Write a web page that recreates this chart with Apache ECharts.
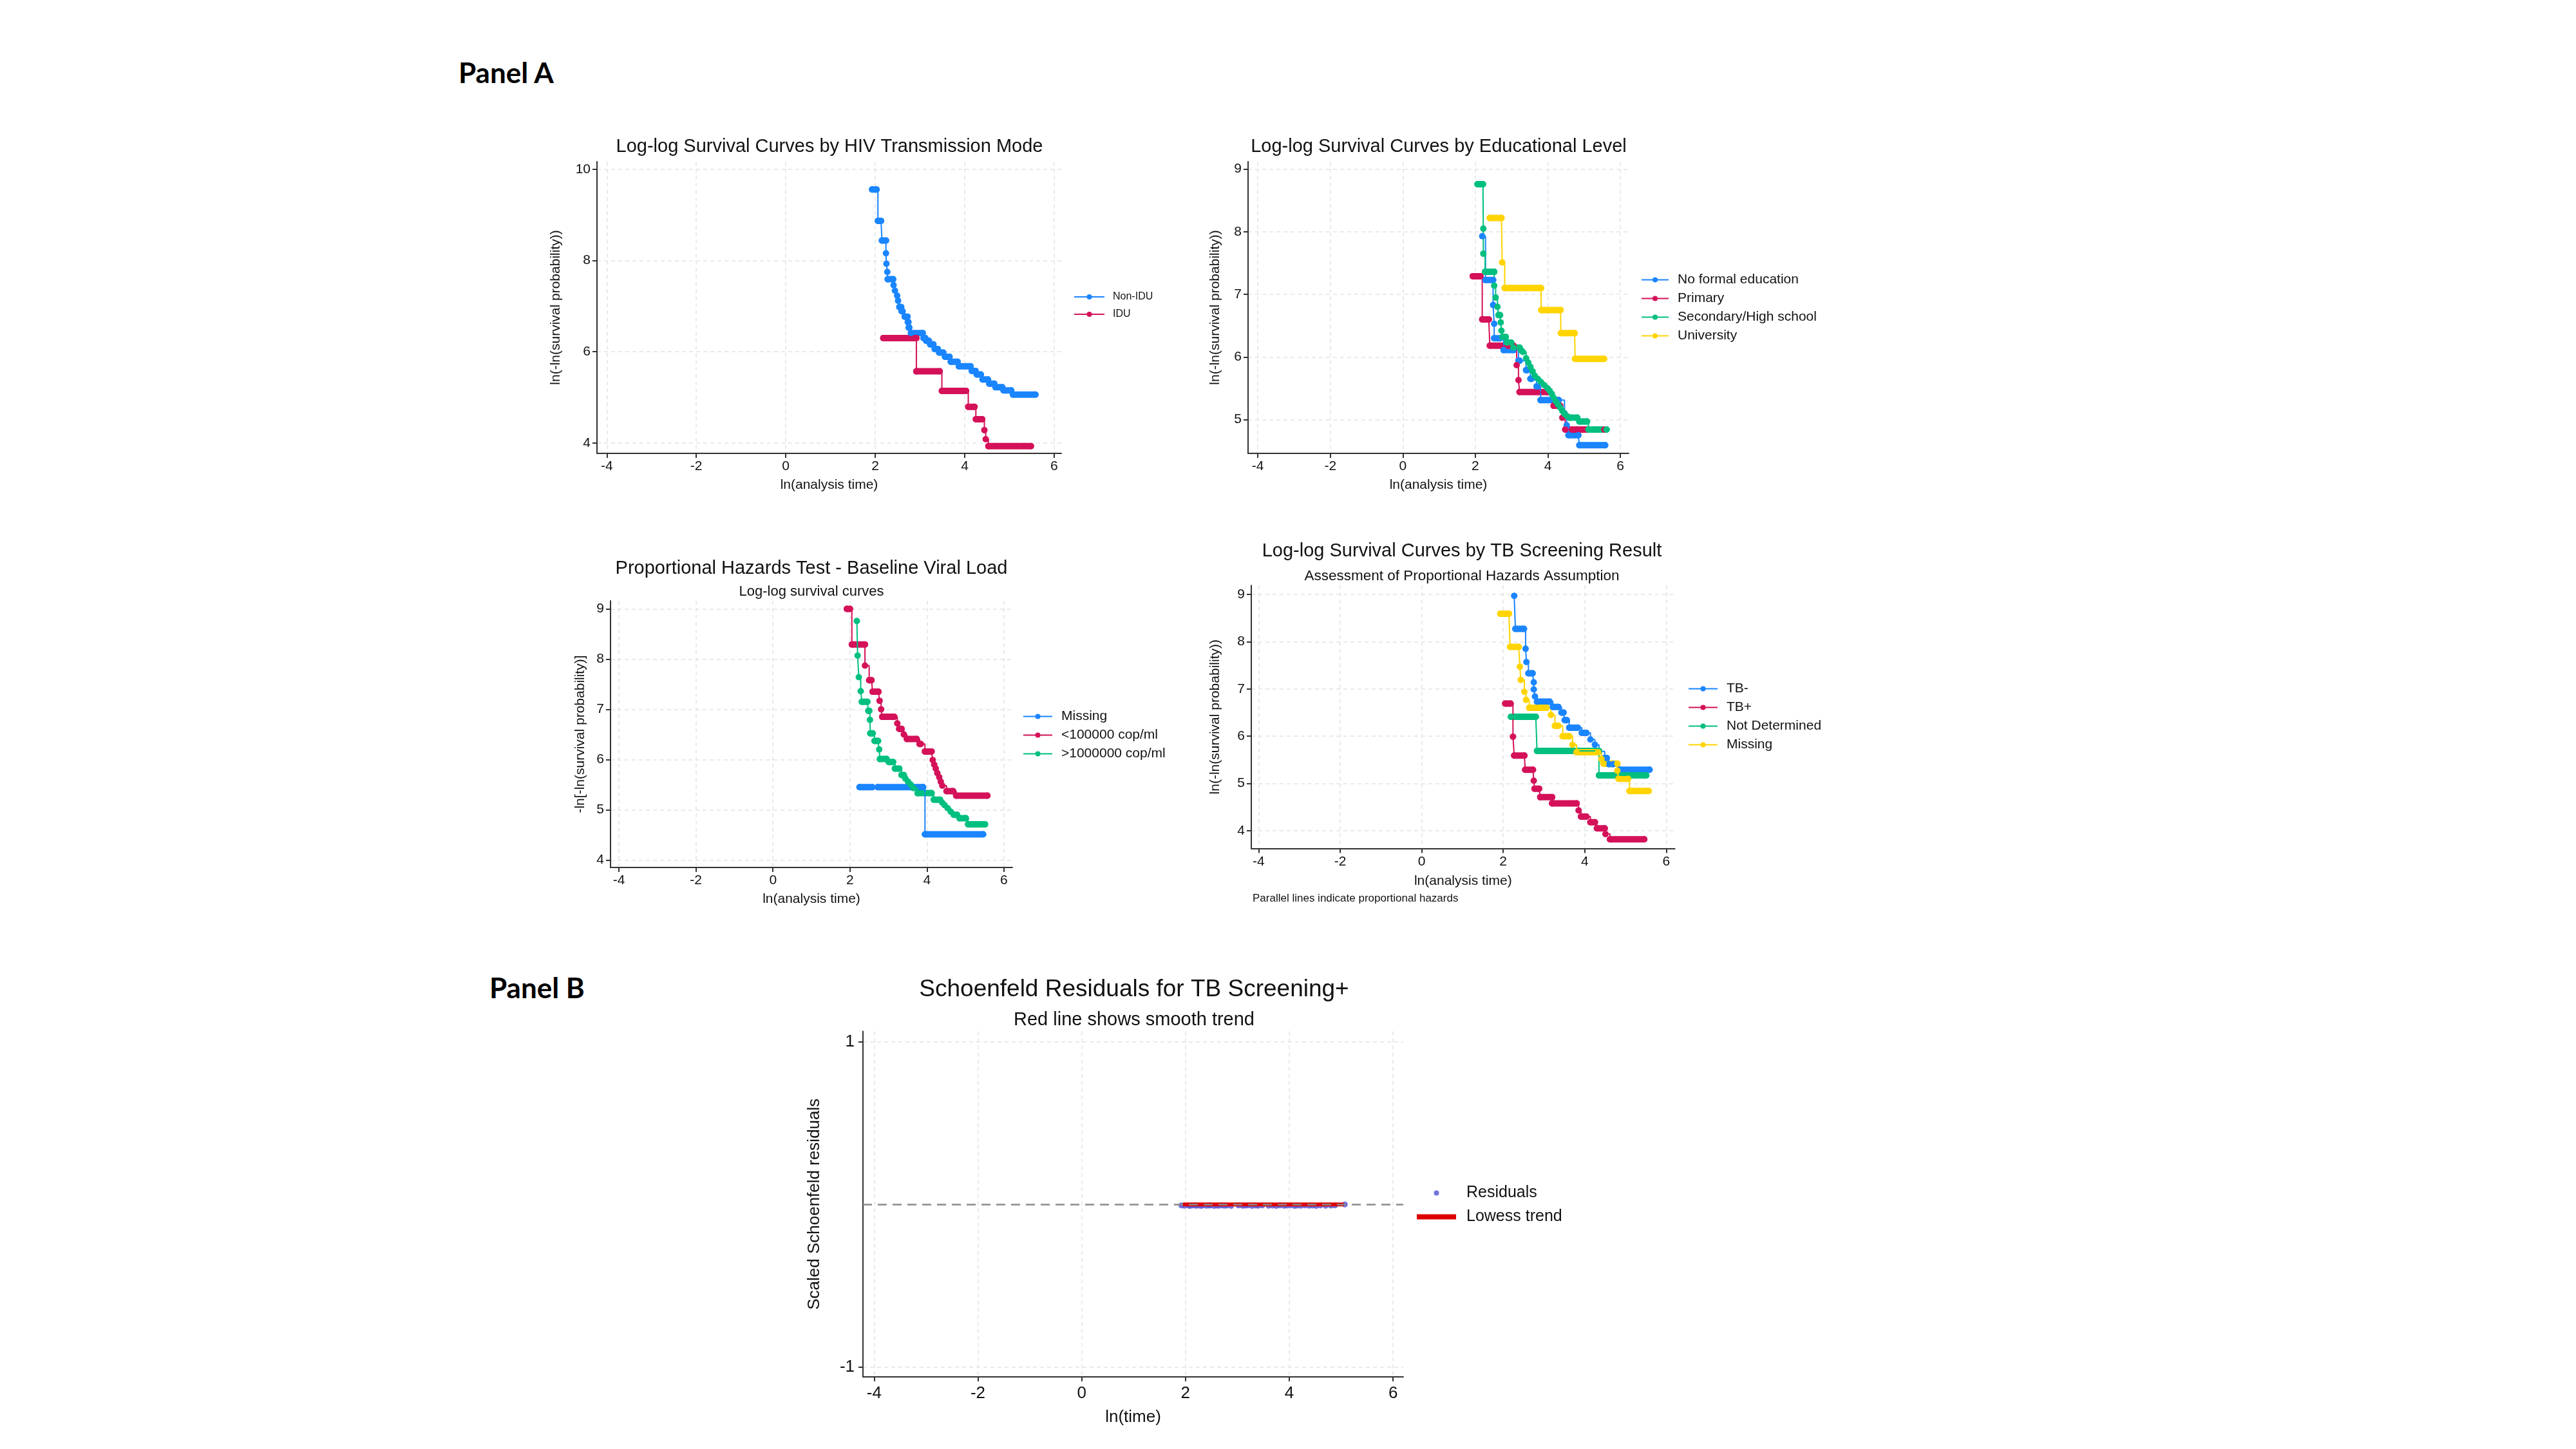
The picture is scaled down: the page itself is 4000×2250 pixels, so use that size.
<!DOCTYPE html>
<html>
<head>
<meta charset="utf-8">
<title>Log-log survival curves and Schoenfeld residuals</title>
<script src="https://cdn.jsdelivr.net/npm/echarts@6/dist/echarts.min.js"></script>
<style>
  html, body { margin: 0; padding: 0; background: #fff; }
  #page { position: relative; width: 4000px; height: 2250px; overflow: hidden; background: #fff; }
  .panelLabel { position: absolute; font-family: Lato, 'Open Sans', sans-serif; font-weight: bold;
                font-size: 44px; line-height: 44px; color: #000; }
  .chart { position: absolute; }
</style>
</head>
<body>
<div id="page">
  <div class="panelLabel" style="left:712px; top:90px;">Panel A</div>
  <div class="panelLabel" style="left:760px; top:1511px;">Panel B</div>
  <div id="hivChart" class="chart" style="left:820px; top:190px; width:1010px; height:590px;"></div>
  <div id="eduChart" class="chart" style="left:1840px; top:190px; width:1040px; height:590px;"></div>
  <div id="vlChart" class="chart" style="left:820px; top:840px; width:1040px; height:590px;"></div>
  <div id="tbChart" class="chart" style="left:1840px; top:820px; width:1060px; height:600px;"></div>
  <div id="resChart" class="chart" style="left:1180px; top:1490px; width:1320px; height:740px;"></div>
</div>
<script>
const FONT = "'Liberation Sans', Arial, Helvetica, sans-serif";
const BLUE = '#1a85ff', RED = '#d41159', GREEN = '#00bf7f', YELLOW = '#ffd400';

// tick values
const xTicks = [-4, -2, 0, 2, 4, 6];
const hivYTicks = [4, 6, 8, 10];
const eduYTicks = [5, 6, 7, 8, 9];
const vlYTicks = [4, 5, 6, 7, 8, 9];
const tbYTicks = [4, 5, 6, 7, 8, 9];
const resYTicks = [-1, 1];

// each step: [ln(t) start, ln(t) end, -ln(-ln S)]
const hivNonIdu = [
  [1.93, 2.03, 9.56], [2.06, 2.13, 8.87], [2.15, 2.24, 8.44], [2.24, 2.24, 8.16],
  [2.25, 2.25, 7.93], [2.27, 2.27, 7.75], [2.28, 2.40, 7.59], [2.41, 2.41, 7.46],
  [2.44, 2.44, 7.34], [2.49, 2.49, 7.23], [2.51, 2.51, 7.12], [2.54, 2.58, 6.98],
  [2.59, 2.61, 6.89], [2.66, 2.72, 6.77], [2.73, 2.74, 6.65], [2.75, 2.76, 6.53],
  [2.80, 3.06, 6.41], [3.08, 3.12, 6.30], [3.14, 3.20, 6.24], [3.23, 3.30, 6.16],
  [3.33, 3.40, 6.06], [3.43, 3.52, 5.98], [3.56, 3.66, 5.89], [3.69, 3.84, 5.78],
  [3.87, 4.13, 5.68], [4.16, 4.24, 5.58], [4.27, 4.36, 5.50], [4.40, 4.52, 5.39],
  [4.55, 4.66, 5.30], [4.69, 4.84, 5.22], [4.87, 5.04, 5.15], [5.08, 5.58, 5.06]
];
const hivIdu = [
  [2.18, 2.92, 6.30], [2.92, 3.44, 5.57], [3.49, 4.03, 5.14], [4.08, 4.22, 4.79],
  [4.25, 4.39, 4.52], [4.44, 4.44, 4.28], [4.47, 4.47, 4.08], [4.53, 5.48, 3.93]
];

const eduNone = [
  [2.19, 2.19, 7.93], [2.28, 2.49, 7.23], [2.49, 2.49, 6.83], [2.52, 2.52, 6.53],
  [2.52, 2.69, 6.30], [2.78, 3.05, 6.11], [3.19, 3.22, 5.94], [3.40, 3.43, 5.79],
  [3.52, 3.55, 5.65], [3.69, 3.72, 5.53], [3.80, 4.30, 5.31], [4.46, 4.46, 5.10],
  [4.52, 4.52, 4.91], [4.57, 4.84, 4.75], [4.87, 5.58, 4.59]
];
const eduPrimary = [
  [1.93, 2.14, 7.29], [2.19, 2.37, 6.60], [2.40, 3.05, 6.18], [3.14, 3.14, 5.87],
  [3.19, 3.19, 5.63], [3.22, 3.99, 5.44], [4.16, 4.34, 5.22], [4.40, 4.40, 5.03],
  [4.48, 5.56, 4.84]
];
const eduSecondary = [
  [2.06, 2.21, 8.76], [2.22, 2.22, 8.05], [2.22, 2.22, 7.65], [2.27, 2.52, 7.36],
  [2.52, 2.52, 7.14], [2.56, 2.56, 6.95], [2.61, 2.61, 6.80], [2.64, 2.68, 6.67],
  [2.70, 2.70, 6.55], [2.72, 2.72, 6.42], [2.75, 2.84, 6.32], [2.87, 2.99, 6.23],
  [3.05, 3.22, 6.15], [3.26, 3.26, 6.11], [3.31, 3.31, 6.08], [3.40, 3.40, 5.98],
  [3.46, 3.46, 5.91], [3.52, 3.52, 5.84], [3.58, 3.58, 5.77], [3.64, 3.64, 5.70],
  [3.72, 3.72, 5.65], [3.81, 3.81, 5.60], [3.90, 3.90, 5.55], [3.99, 3.99, 5.50],
  [4.05, 4.05, 5.46], [4.11, 4.11, 5.41], [4.16, 4.16, 5.35], [4.22, 4.22, 5.29],
  [4.28, 4.28, 5.24], [4.34, 4.34, 5.19], [4.40, 4.40, 5.14], [4.46, 4.46, 5.09],
  [4.52, 4.52, 5.06], [4.60, 4.81, 5.03], [4.87, 5.08, 4.97], [5.12, 5.62, 4.84]
];
const eduUniversity = [
  [2.40, 2.72, 8.22], [2.74, 2.74, 7.51], [2.81, 3.81, 7.10], [3.82, 4.35, 6.75],
  [4.36, 4.74, 6.38], [4.75, 5.55, 5.97]
];

const vlMissing = [
  [2.25, 2.58, 5.45], [2.72, 3.90, 5.45], [3.95, 5.46, 4.51]
];
const vlLow = [
  [1.92, 2.00, 9.00], [2.05, 2.39, 8.29], [2.39, 2.39, 7.87], [2.50, 2.56, 7.58],
  [2.59, 2.74, 7.35], [2.77, 2.77, 7.17], [2.81, 2.81, 7.00], [2.84, 3.15, 6.85],
  [3.23, 3.23, 6.72], [3.28, 3.34, 6.61], [3.40, 3.40, 6.50], [3.48, 3.73, 6.41],
  [3.81, 3.84, 6.31], [3.95, 4.12, 6.16], [4.15, 4.15, 5.99], [4.19, 4.19, 5.90],
  [4.23, 4.23, 5.82], [4.27, 4.27, 5.73], [4.32, 4.32, 5.65], [4.36, 4.36, 5.56],
  [4.40, 4.40, 5.48], [4.51, 4.68, 5.37], [4.76, 5.57, 5.28]
];
const vlHigh = [
  [2.18, 2.18, 8.76], [2.20, 2.20, 8.07], [2.23, 2.23, 7.64], [2.28, 2.28, 7.36],
  [2.31, 2.45, 7.15], [2.48, 2.50, 6.97], [2.52, 2.52, 6.79], [2.53, 2.59, 6.52],
  [2.64, 2.73, 6.37], [2.76, 2.76, 6.20], [2.78, 2.95, 6.01], [3.01, 3.12, 5.95],
  [3.17, 3.28, 5.82], [3.34, 3.40, 5.69], [3.44, 3.44, 5.62], [3.51, 3.51, 5.56],
  [3.58, 3.58, 5.50], [3.65, 3.65, 5.43], [3.76, 4.12, 5.33], [4.18, 4.34, 5.20],
  [4.40, 4.40, 5.14], [4.46, 4.46, 5.09], [4.54, 4.54, 5.03], [4.62, 4.62, 4.96],
  [4.70, 4.78, 4.90], [4.85, 5.01, 4.83], [5.07, 5.51, 4.71]
];

const tbNeg = [
  [2.27, 2.27, 8.97], [2.30, 2.51, 8.27], [2.55, 2.55, 7.85], [2.57, 2.57, 7.57],
  [2.62, 2.72, 7.33], [2.75, 2.75, 7.14], [2.75, 2.75, 6.99], [2.78, 2.78, 6.84],
  [2.83, 3.14, 6.73], [3.22, 3.35, 6.62], [3.43, 3.48, 6.50], [3.51, 3.56, 6.34],
  [3.62, 3.83, 6.18], [3.93, 4.04, 6.07], [4.14, 4.14, 5.93], [4.25, 4.25, 5.82],
  [4.35, 4.35, 5.68], [4.49, 4.54, 5.54], [4.59, 4.70, 5.41], [4.85, 5.59, 5.29]
];
const tbPos = [
  [2.05, 2.18, 6.69], [2.24, 2.24, 5.99], [2.27, 2.52, 5.59], [2.54, 2.73, 5.29],
  [2.75, 2.75, 5.06], [2.77, 2.88, 4.89], [2.91, 3.20, 4.71], [3.20, 3.80, 4.58],
  [3.85, 3.85, 4.43], [3.91, 4.04, 4.30], [4.14, 4.25, 4.18], [4.30, 4.49, 4.05],
  [4.51, 4.51, 3.93], [4.62, 5.46, 3.82]
];
const tbNotDet = [
  [2.19, 2.80, 6.41], [2.83, 4.35, 5.69], [4.35, 5.51, 5.17]
];
const tbMissing = [
  [1.93, 2.14, 8.59], [2.17, 2.38, 7.89], [2.41, 2.41, 7.47], [2.43, 2.43, 7.19],
  [2.52, 2.52, 6.94], [2.56, 2.56, 6.77], [2.64, 3.06, 6.60], [3.17, 3.17, 6.45],
  [3.27, 3.35, 6.22], [3.46, 3.62, 6.00], [3.70, 3.70, 5.82], [3.80, 4.33, 5.66],
  [4.41, 4.41, 5.52], [4.46, 4.80, 5.42], [4.80, 4.80, 5.27], [4.83, 5.06, 5.10],
  [5.10, 5.57, 4.84]
];

// Panel B: [ln(time), scaled residual]
const residuals = [
  [1.92, -0.006], [1.98, -0.008], [2.05, -0.006], [2.08, -0.009], [2.12, -0.007],
  [2.18, -0.006], [2.20, -0.008], [2.25, -0.007], [2.30, -0.009], [2.33, -0.006],
  [2.40, -0.008], [2.45, -0.007], [2.48, -0.006], [2.55, -0.009], [2.60, -0.007],
  [2.64, -0.008], [2.70, -0.006], [2.75, -0.008], [2.80, -0.007], [2.88, -0.009],
  [3.02, -0.006], [3.10, -0.008], [3.15, -0.007], [3.20, -0.006], [3.28, -0.009],
  [3.35, -0.007], [3.40, -0.008], [3.48, -0.006], [3.60, -0.008], [3.68, -0.007],
  [3.75, -0.009], [3.82, -0.006], [3.90, -0.008], [3.95, -0.007], [4.02, -0.006],
  [4.10, -0.009], [4.15, -0.007], [4.22, -0.008], [4.30, -0.006], [4.38, -0.008],
  [4.45, -0.007], [4.52, -0.009], [4.60, -0.006], [4.70, -0.008], [4.80, -0.007],
  [4.88, -0.006], [5.07, 0.000]
];
const lowessX = [1.95, 2.40, 2.90, 3.40, 3.90, 4.40, 4.90, 5.05];
const lowessY = [0.000, 0.000, 0.000, 0.000, 0.000, 0.000, 0.000, 0.000];

// ---------- helpers ----------
function axisOpt(min, max, ticks, name, nameGap, fs, margin) {
  return {
    type: 'value', min: min, max: max,
    name: name, nameLocation: 'middle', nameGap: nameGap,
    nameTextStyle: { fontFamily: FONT, fontSize: fs, color: '#111' },
    axisLine: { show: true, onZero: false, lineStyle: { color: '#333', width: 2 } },
    axisTick: { show: true, customValues: ticks, length: 7, lineStyle: { color: '#333', width: 2 } },
    axisLabel: { customValues: ticks, fontFamily: FONT, fontSize: fs, color: '#111', margin: margin },
    splitLine: { show: true, lineStyle: { color: '#e4e4e4', type: [6, 5], width: 1.5 } }
  };
}
function title(x, y, text, fs) {
  return {
    type: 'text', x: x, y: y, silent: true,
    style: { text: text, fontFamily: FONT, fontSize: fs, fill: '#111',
             align: 'center', verticalAlign: 'middle', textAlign: 'center', textVerticalAlign: 'middle' }
  };
}
// one curve = thin step line with markers + thick round bars on the flat runs
function curve(name, runs, color) {
  const pts = [];
  runs.forEach(function (r) {
    pts.push([r[0], r[2]]);
    if (r[1] > r[0]) pts.push([r[1], r[2]]);
  });
  return [
    {
      name: name, type: 'line', step: 'end', data: pts, color: color,
      symbol: 'circle', symbolSize: 10, showAllSymbol: true,
      lineStyle: { width: 2, color: color }, itemStyle: { color: color }
    },
    {
      name: name + ' runs', type: 'custom', data: runs, silent: true,
      encode: { x: [0, 1], y: 2 },
      renderItem: function (params, api) {
        const a = api.coord([api.value(0), api.value(2)]);
        const b = api.coord([api.value(1), api.value(2)]);
        return {
          type: 'line',
          shape: { x1: a[0], y1: a[1], x2: b[0], y2: b[1] },
          style: { stroke: color, lineWidth: 10, lineCap: 'round' }
        };
      }
    }
  ];
}
function legendOpt(left, top, names, itemWidth, fs, gap, pad) {
  return {
    orient: 'vertical', left: left, top: top, padding: 0,
    itemWidth: itemWidth, itemHeight: 10, itemGap: gap, selectedMode: false,
    data: names,
    textStyle: { fontFamily: FONT, fontSize: fs, lineHeight: fs, color: '#111', padding: [0, 0, 0, pad] }
  };
}
function makeChart(id, option) {
  const chart = echarts.init(document.getElementById(id));
  option.animation = false;
  chart.setOption(option);
  return chart;
}

// ---------- Panel A, top left ----------
makeChart('hivChart', {
  grid: { left: 107, top: 61, width: 721, height: 453 },
  xAxis: axisOpt(-4.22, 6.16, xTicks, 'ln(analysis time)', 39, 21, 10),
  yAxis: axisOpt(3.77, 10.17, hivYTicks, 'ln(-ln(survival probability))', 53, 21, 10),
  legend: legendOpt(847, 263, ['Non-IDU', 'IDU'], 47, 16, 11, 8),
  graphic: [title(468, 38, 'Log-log Survival Curves by HIV Transmission Mode', 29)],
  series: [].concat(curve('Non-IDU', hivNonIdu, BLUE), curve('IDU', hivIdu, RED))
});

// ---------- Panel A, top right ----------
makeChart('eduChart', {
  grid: { left: 98, top: 61, width: 591, height: 453 },
  xAxis: axisOpt(-4.27, 6.23, xTicks, 'ln(analysis time)', 39, 21, 10),
  yAxis: axisOpt(4.46, 9.12, eduYTicks, 'ln(-ln(survival probability))', 40, 21, 10),
  legend: legendOpt(708, 234, ['No formal education', 'Primary', 'Secondary/High school', 'University'], 42, 21, 8, 9),
  graphic: [title(394, 38, 'Log-log Survival Curves by Educational Level', 29)],
  series: [].concat(
    curve('No formal education', eduNone, BLUE),
    curve('Primary', eduPrimary, RED),
    curve('Secondary/High school', eduSecondary, GREEN),
    curve('University', eduUniversity, YELLOW))
});

// ---------- Panel A, bottom left ----------
makeChart('vlChart', {
  grid: { left: 128, top: 93, width: 624, height: 414 },
  xAxis: axisOpt(-4.22, 6.22, xTicks, 'ln(analysis time)', 39, 21, 10),
  yAxis: axisOpt(3.85, 9.16, vlYTicks, '-ln[-ln(survival probability)]', 36, 21, 10),
  legend: legendOpt(768, 262, ['Missing', '<100000 cop/ml', '>1000000 cop/ml'], 45, 21, 8, 9),
  graphic: [
    title(440, 43, 'Proportional Hazards Test - Baseline Viral Load', 29),
    title(440, 79, 'Log-log survival curves', 22)
  ],
  series: [].concat(
    curve('Missing', vlMissing, BLUE),
    curve('<100000 cop/ml', vlLow, RED),
    curve('>1000000 cop/ml', vlHigh, GREEN))
});

// ---------- Panel A, bottom right ----------
makeChart('tbChart', {
  grid: { left: 103, top: 89, width: 657.6, height: 408.5 },
  xAxis: axisOpt(-4.18, 6.21, xTicks, 'ln(analysis time)', 40, 21, 10),
  yAxis: axisOpt(3.625, 9.19, tbYTicks, 'ln(-ln(survival probability))', 45, 21, 10),
  legend: legendOpt(781, 239, ['TB-', 'TB+', 'Not Determined', 'Missing'], 45, 21, 8, 9),
  graphic: [
    title(430, 36, 'Log-log Survival Curves by TB Screening Result', 29),
    title(430, 75, 'Assessment of Proportional Hazards Assumption', 22.5),
    { type: 'text', x: 105, y: 575, silent: true,
      style: { text: 'Parallel lines indicate proportional hazards', fontFamily: FONT, fontSize: 17,
               fill: '#111', align: 'left', verticalAlign: 'middle', textAlign: 'left', textVerticalAlign: 'middle' } }
  ],
  series: [].concat(
    curve('TB-', tbNeg, BLUE),
    curve('TB+', tbPos, RED),
    curve('Not Determined', tbNotDet, GREEN),
    curve('Missing', tbMissing, YELLOW))
});

// ---------- Panel B ----------
makeChart('resChart', {
  grid: { left: 160, top: 111.5, width: 839, height: 536.5 },
  xAxis: axisOpt(-4.215, 6.196, xTicks, 'ln(time)', 50, 26, 13),
  yAxis: axisOpt(-1.061, 1.065, resYTicks, 'Scaled Schoenfeld residuals', 62, 26, 13),
  legend: {
    orient: 'vertical', left: 1020, top: 350, padding: 0,
    itemWidth: 61, itemHeight: 8, itemGap: 12, selectedMode: false,
    data: [{ name: 'Residuals', icon: 'circle' }, { name: 'Lowess trend', icon: 'rect' }],
    textStyle: { fontFamily: FONT, fontSize: 25, lineHeight: 25, color: '#111', padding: [0, 0, 0, 11] }
  },
  graphic: [
    title(581, 47, 'Schoenfeld Residuals for TB Screening+', 37),
    title(581, 94, 'Red line shows smooth trend', 29)
  ],
  series: [
    {
      name: 'Residuals', type: 'scatter', data: residuals, z: 2,
      symbol: 'circle', symbolSize: 9,
      itemStyle: { color: '#5b5bd6', opacity: 0.85 },
      markLine: {
        silent: true, symbol: 'none', label: { show: false },
        lineStyle: { color: '#8a8a8a', width: 2.5, type: [14, 9] },
        data: [{ yAxis: 0 }]
      }
    },
    {
      name: 'Lowess trend', type: 'line', z: 3,
      data: lowessX.map(function (x, i) { return [x, lowessY[i]]; }),
      symbol: 'none', color: '#dd0000',
      lineStyle: { color: '#dd0000', width: 6 }
    }
  ]
});
</script>
</body>
</html>
